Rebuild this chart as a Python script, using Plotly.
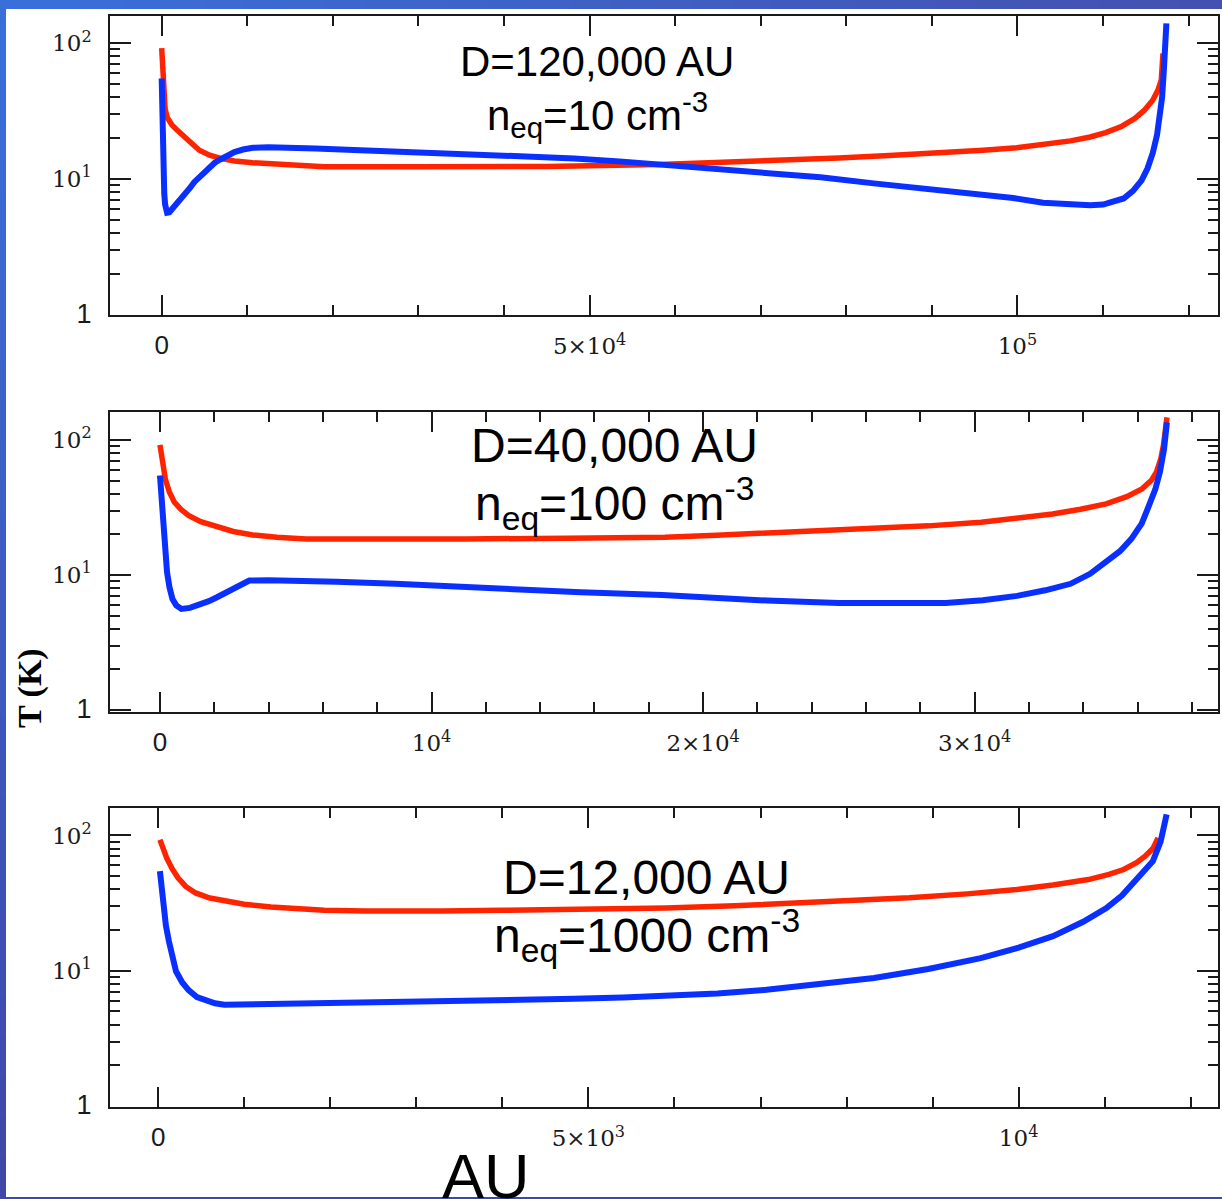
import plotly.graph_objects as go

# ---------------- data (AU, K) ----------------
# Panel 1: D = 120,000 AU, n_eq = 10 cm^-3
p1_red_x = [0, 100, 220, 400, 630, 900, 1200, 1700, 2300, 3300, 4400, 5600, 6900, 8500,
            10650, 15000, 19000, 30000, 45000, 58200, 67800, 79100, 85000, 91600, 96000,
            99900, 103000, 106200, 108500, 110300, 112200, 113700, 114800, 115800, 116400,
            116800, 117000]
p1_red_T = [92, 60, 40, 33, 28.6, 26.5, 25, 23.3, 21.7, 18.8, 16.3, 15.0, 14.2, 13.6,
            13.2, 12.6, 12.3, 12.3, 12.4, 12.8, 13.4, 14.3, 14.9, 15.6, 16.3,
            17.0, 18.0, 19.1, 20.4, 22.0, 24.5, 27.9, 32, 38, 45,
            53.5, 84]
p1_blue_x = [0, 30, 60, 100, 130, 170, 220, 300, 400, 500, 630, 900, 1200, 1700, 2300,
             2800, 3300, 3800, 4400, 5000, 5600, 6200, 6900, 7700, 8500, 9500, 10650, 12500,
             14800, 18000, 23200, 29000, 35700, 42000, 48200, 53500, 58200, 64000, 70700,
             77000, 83200, 89500, 95700, 99500, 103000, 106200, 108500, 110000, 111300,
             112400, 113500, 114500, 115200, 115800, 116300, 116600, 116900, 117100,
             117300, 117400]
p1_blue_T = [55, 40, 30, 22, 18, 13, 9.8, 7.8, 6.5, 5.9, 5.65, 5.7, 6.0, 6.4, 7.0,
             7.7, 8.6, 9.5, 10.4, 11.4, 12.3, 13.2, 14.0, 14.9, 15.8, 16.5, 17.0, 17.15,
             17.1, 16.8, 16.3, 15.8, 15.2, 14.7, 14.2, 13.5, 12.8, 12.1, 11.3,
             10.3, 9.3, 8.5, 7.85, 7.25, 6.7, 6.44, 6.42, 6.5, 6.8,
             7.2, 8.2, 9.8, 12, 15.5, 21, 27.2, 40, 63,
             100, 140]

# Panel 2: D = 40,000 AU, n_eq = 100 cm^-3
p2_red_x = [0, 80, 200, 350, 530, 780, 1050, 1500, 2100, 2700, 3420, 4300, 5390, 8000,
            11300, 15000, 18600, 20500, 22350, 24300, 26300, 28300, 30240, 31600, 32870,
            33900, 34840, 35600, 36160, 36500, 36690, 36850, 36950, 37080]
p2_red_T = [92, 68, 51, 41, 34.6, 30.5, 27.6, 24.8, 22.6, 21.0, 19.8, 19.0, 18.5, 18.4,
            18.5, 18.7, 19.0, 19.7, 20.5, 21.1, 21.9, 23.1, 24.6, 26.2, 28.3,
            30.7, 33.6, 38, 43.4, 50, 57.6, 72, 91, 147]
p2_blue_x = [0, 60, 130, 190, 260, 350, 460, 600, 790, 1100, 1450, 1800, 2100, 2700, 3290,
             4000, 4730, 6500, 8680, 10500, 12630, 15500, 18500, 20500, 22350, 24990, 27000,
             28930, 30300, 31560, 32600, 33530, 34250, 34840, 35350, 35770, 36150, 36420,
             36650, 36820, 36970, 37080]
p2_blue_T = [54.5, 35, 21.9, 14.5, 10.5, 8.1, 6.64, 5.95, 5.6, 5.7, 6.0, 6.4, 6.84, 8.0, 9.1,
             9.15, 9.1, 8.9, 8.6, 8.25, 7.87, 7.45, 7.1, 6.75, 6.46, 6.2, 6.15,
             6.2, 6.5, 7.0, 7.7, 8.6, 10.2, 12.4, 15, 18.5, 24, 32.7,
             43, 57.7, 85, 135]

# Panel 3: D = 12,000 AU, n_eq = 1000 cm^-3
p3_red_x = [20, 60, 100, 160, 230, 320, 435, 600, 770, 1000, 1310, 1600, 1930, 2400, 2760,
            3300, 4000, 5000, 5900, 6700, 7490, 8100, 8730, 9400, 9980, 10400, 10810, 11050,
            11220, 11370, 11470, 11560, 11620]
p3_red_T = [93, 78, 68, 57, 48.6, 42, 37.6, 34.5, 32.7, 31, 29.6, 28.6, 28.0, 27.6, 27.5,
            27.6, 28.0, 28.5, 29.1, 30.2, 31.7, 33, 34.6, 37, 39.8, 43, 47.2, 51.5,
            56, 63, 70.3, 80, 96]
p3_blue_x = [20, 40, 60, 90, 125, 165, 207, 280, 353, 450, 560, 660, 770, 1200, 1930, 2800,
             3590, 4200, 4830, 5400, 5900, 6500, 7070, 7700, 8320, 8950, 9560, 10000, 10400,
             10750, 11020, 11200, 11350, 11470, 11560, 11650, 11720]
p3_blue_T = [54.5, 40, 29.1, 21.5, 16.5, 12.5, 9.9, 8.2, 7.2, 6.4, 6.0, 5.75, 5.6, 5.65, 5.77,
             5.85, 5.93, 6.05, 6.2, 6.35, 6.5, 6.8, 7.23, 7.9, 8.83, 10.3, 12.4, 14.8, 18.0,
             23, 29.1, 36, 46, 55, 64.6, 90, 143]

# tick labels
ZERO = "<span style='font-family:Liberation Sans;font-size:26px'>0</span>"
p1_xticks = [0, 50000, 100000]
p1_xlabels = [ZERO, "5×10<sup>4</sup>", "10<sup>5</sup>"]
p2_xticks = [0, 10000, 20000, 30000]
p2_xlabels = [ZERO, "10<sup>4</sup>", "2×10<sup>4</sup>", "3×10<sup>4</sup>"]
p3_xticks = [0, 5000, 10000]
p3_xlabels = [ZERO, "5×10<sup>3</sup>", "10<sup>4</sup>"]
y_ticks = [1, 10, 100]
y_labels = ["<span style='font-family:Liberation Sans;font-size:27px'>1</span>",
            "10<sup>1</sup>", "10<sup>2</sup>"]
y_minor = [2, 3, 4, 5, 6, 7, 8, 9, 20, 30, 40, 50, 60, 70, 80, 90]

titles = [("D=120,000 AU", "n<sub>eq</sub>=10 cm<sup>-3</sup>"),
          ("D=40,000 AU", "n<sub>eq</sub>=100 cm<sup>-3</sup>"),
          ("D=12,000 AU", "n<sub>eq</sub>=1000 cm<sup>-3</sup>")]

# ---------------- layout helpers ----------------
W, H = 1222, 1199
def fx(px):
    return px / W
def fy(py):
    return 1 - py / H

RED = "#ff2400"
BLUE = "#0a30ff"
INK = "#1a1a1a"

panels = [
    dict(rx=p1_red_x, ry=p1_red_T, bx=p1_blue_x, by=p1_blue_T, top=16, bot=315,
         xr=[-6040, 123430], yr=[0, 2.2], tv=p1_xticks, tt=p1_xlabels, mdt=10000,
         t1=(597, 62, 42), t2=(597, 114, 42)),
    dict(rx=p2_red_x, ry=p2_red_T, bx=p2_blue_x, by=p2_blue_T, top=412, bot=712,
         xr=[-1840, 38960], yr=[-0.015, 2.207], tv=p2_xticks, tt=p2_xlabels, mdt=2000,
         t1=(614, 445, 48), t2=(614, 503, 48)),
    dict(rx=p3_red_x, ry=p3_red_T, bx=p3_blue_x, by=p3_blue_T, top=808, bot=1107,
         xr=[-560, 12317], yr=[-0.007, 2.203], tv=p3_xticks, tt=p3_xlabels, mdt=1000,
         t1=(646, 877, 48), t2=(647, 935, 48)),
]

fig = go.Figure()
layout = dict(width=W, height=H, margin=dict(l=0, r=0, t=0, b=0, pad=0, autoexpand=False),
              paper_bgcolor="#4258bc", plot_bgcolor="white", showlegend=False)
annotations = []
tickfont = dict(family="DejaVu Serif", size=23, color=INK)

for i, p in enumerate(panels, start=1):
    sx = "" if i == 1 else str(i)
    fig.add_trace(go.Scatter(x=p["rx"], y=p["ry"], mode="lines",
                             line=dict(color=RED, width=5.5),
                             xaxis="x" + sx, yaxis="y" + sx, hoverinfo="skip"))
    fig.add_trace(go.Scatter(x=p["bx"], y=p["by"], mode="lines",
                             line=dict(color=BLUE, width=6),
                             xaxis="x" + sx, yaxis="y" + sx, hoverinfo="skip"))
    layout["xaxis" + sx] = dict(
        domain=[fx(110), fx(1218)], range=p["xr"], anchor="y" + sx, automargin=False,
        showline=True, linecolor=INK, linewidth=1.5, mirror="ticks",
        ticks="inside", ticklen=20, tickwidth=1.5, tickcolor=INK,
        tickmode="array", tickvals=p["tv"], ticktext=p["tt"], tickfont=tickfont,
        ticklabelstandoff=10, showgrid=False, zeroline=False,
        minor=dict(ticks="inside", ticklen=10, tickwidth=1.5, tickcolor=INK,
                   tickmode="linear", tick0=0, dtick=p["mdt"], showgrid=False))
    layout["yaxis" + sx] = dict(
        domain=[fy(p["bot"]), fy(p["top"])], range=p["yr"], type="log", anchor="x" + sx,
        automargin=False,
        showline=True, linecolor=INK, linewidth=1.5, mirror="ticks",
        ticks="inside", ticklen=21, tickwidth=1.5, tickcolor=INK,
        tickmode="array", tickvals=y_ticks, ticktext=y_labels, tickfont=tickfont,
        ticklabelstandoff=12, showgrid=False, zeroline=False,
        minor=dict(ticks="inside", ticklen=10, tickwidth=1.5, tickcolor=INK,
                   tickmode="array", tickvals=y_minor, showgrid=False))
    for (txt, (cx, cy, fs)) in zip(titles[i - 1], (p["t1"], p["t2"])):
        annotations.append(dict(text=txt, x=fx(cx), y=fy(cy), xref="paper", yref="paper",
                                xanchor="center", yanchor="middle", showarrow=False,
                                font=dict(family="Liberation Sans", size=fs, color="black")))

annotations.append(dict(text="<b>T (K)</b>", x=fx(30), y=fy(688), xref="paper", yref="paper",
                        textangle=-90, showarrow=False, xanchor="center", yanchor="middle",
                        font=dict(family="Liberation Serif", size=34, color="black")))
annotations.append(dict(text="AU", x=fx(486), y=fy(1176), xref="paper", yref="paper",
                        showarrow=False, xanchor="center", yanchor="middle",
                        font=dict(family="Liberation Sans", size=63, color="black")))

# blue slide frame with a simple gradient
shapes = [dict(type="rect", xref="paper", yref="paper", x0=fx(6), x1=1, y0=fy(1197), y1=fy(9),
               fillcolor="white", line=dict(width=0), layer="below")]
def mix(c1, c2, t):
    return "rgb(%d,%d,%d)" % tuple(round(a + (b - a) * t) for a, b in zip(c1, c2))
c_tl, c_tr, c_bl = (58, 112, 218), (68, 80, 176), (64, 70, 168)
N = 30
for k in range(N):
    t = (k + 0.5) / N
    shapes.append(dict(type="rect", xref="paper", yref="paper",
                       x0=k / N, x1=(k + 1) / N + 0.002, y0=fy(9), y1=1,
                       fillcolor=mix(c_tl, c_tr, t), line=dict(width=0), layer="above"))
    shapes.append(dict(type="rect", xref="paper", yref="paper",
                       x0=0, x1=fx(6), y0=1 - (k + 1) / N - 0.002, y1=1 - k / N,
                       fillcolor=mix(c_tl, c_bl, t), line=dict(width=0), layer="above"))
shapes.append(dict(type="rect", xref="paper", yref="paper", x0=0, x1=1, y0=0, y1=fy(1197),
                   fillcolor=mix(c_tl, c_bl, 1.0), line=dict(width=0), layer="above"))

layout["annotations"] = annotations
layout["shapes"] = shapes
fig.update_layout(**layout)
fig.write_html("out.html")
